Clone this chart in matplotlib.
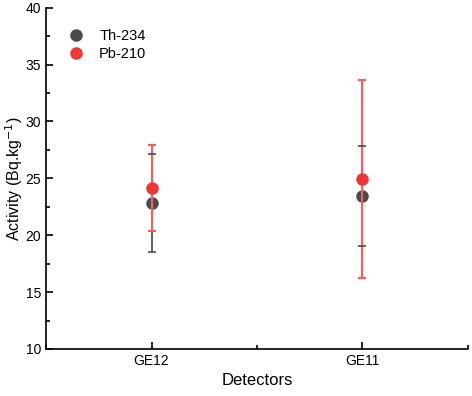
import matplotlib.pyplot as plt

plt.rcParams['font.family'] = ['Liberation Sans', 'DejaVu Sans']

detectors = ['GE12', 'GE11']
th234 = [22.85, 23.45]
th234_err = [4.3, 4.4]
pb210 = [24.15, 24.9]
pb210_err = [3.8, 8.7]

x = [1, 2]

fig = plt.figure(figsize=(4.72, 3.96), dpi=100)
ax = fig.add_axes([0.0975, 0.1187, 0.894, 0.862])

th_line = ax.errorbar(x, th234, yerr=th234_err, fmt='o', color='#4a4a4a',
                      ecolor='#555555', elinewidth=1.3, capsize=3, capthick=1.3,
                      markersize=8, label='Th-234', zorder=3)
pb_line = ax.errorbar(x, pb210, yerr=pb210_err, fmt='o', color='#f03535',
                      ecolor='#f06060', elinewidth=1.6, capsize=3, capthick=1.6,
                      markersize=8, label='Pb-210', zorder=4)
for cap in th_line[1]:
    cap.set_zorder(5)

ax.set_xlim(0.5, 2.5)
ax.set_ylim(10, 40)
ax.set_xticks(x)
ax.set_xticklabels(detectors)
ax.set_xticks([0.5, 1.5, 2.5], minor=True)
ax.set_yticks([10, 15, 20, 25, 30, 35, 40])
ax.set_yticks([12.5, 17.5, 22.5, 27.5, 32.5, 37.5], minor=True)
ax.tick_params(which='both', direction='in', labelsize=10, width=1.2)
ax.tick_params(which='major', length=5)
ax.tick_params(which='minor', length=3)
ax.spines['top'].set_visible(False)
ax.spines['right'].set_visible(False)
ax.spines['left'].set_linewidth(1.2)
ax.spines['bottom'].set_linewidth(1.2)

ax.set_xlabel('Detectors', fontsize=12)
ax.set_ylabel('Activity (Bq.kg$^{-1}$)', fontsize=11.5)
ax.yaxis.set_label_coords(-0.05, 0.5)

ax.legend(handles=[th_line[0], pb_line[0]], labels=['Th-234', 'Pb-210'],
          loc='upper left', frameon=False, fontsize=10.5,
          bbox_to_anchor=(0.005, 0.975), handletextpad=0.6, labelspacing=0.25)

fig.savefig('out.png', dpi=100)
